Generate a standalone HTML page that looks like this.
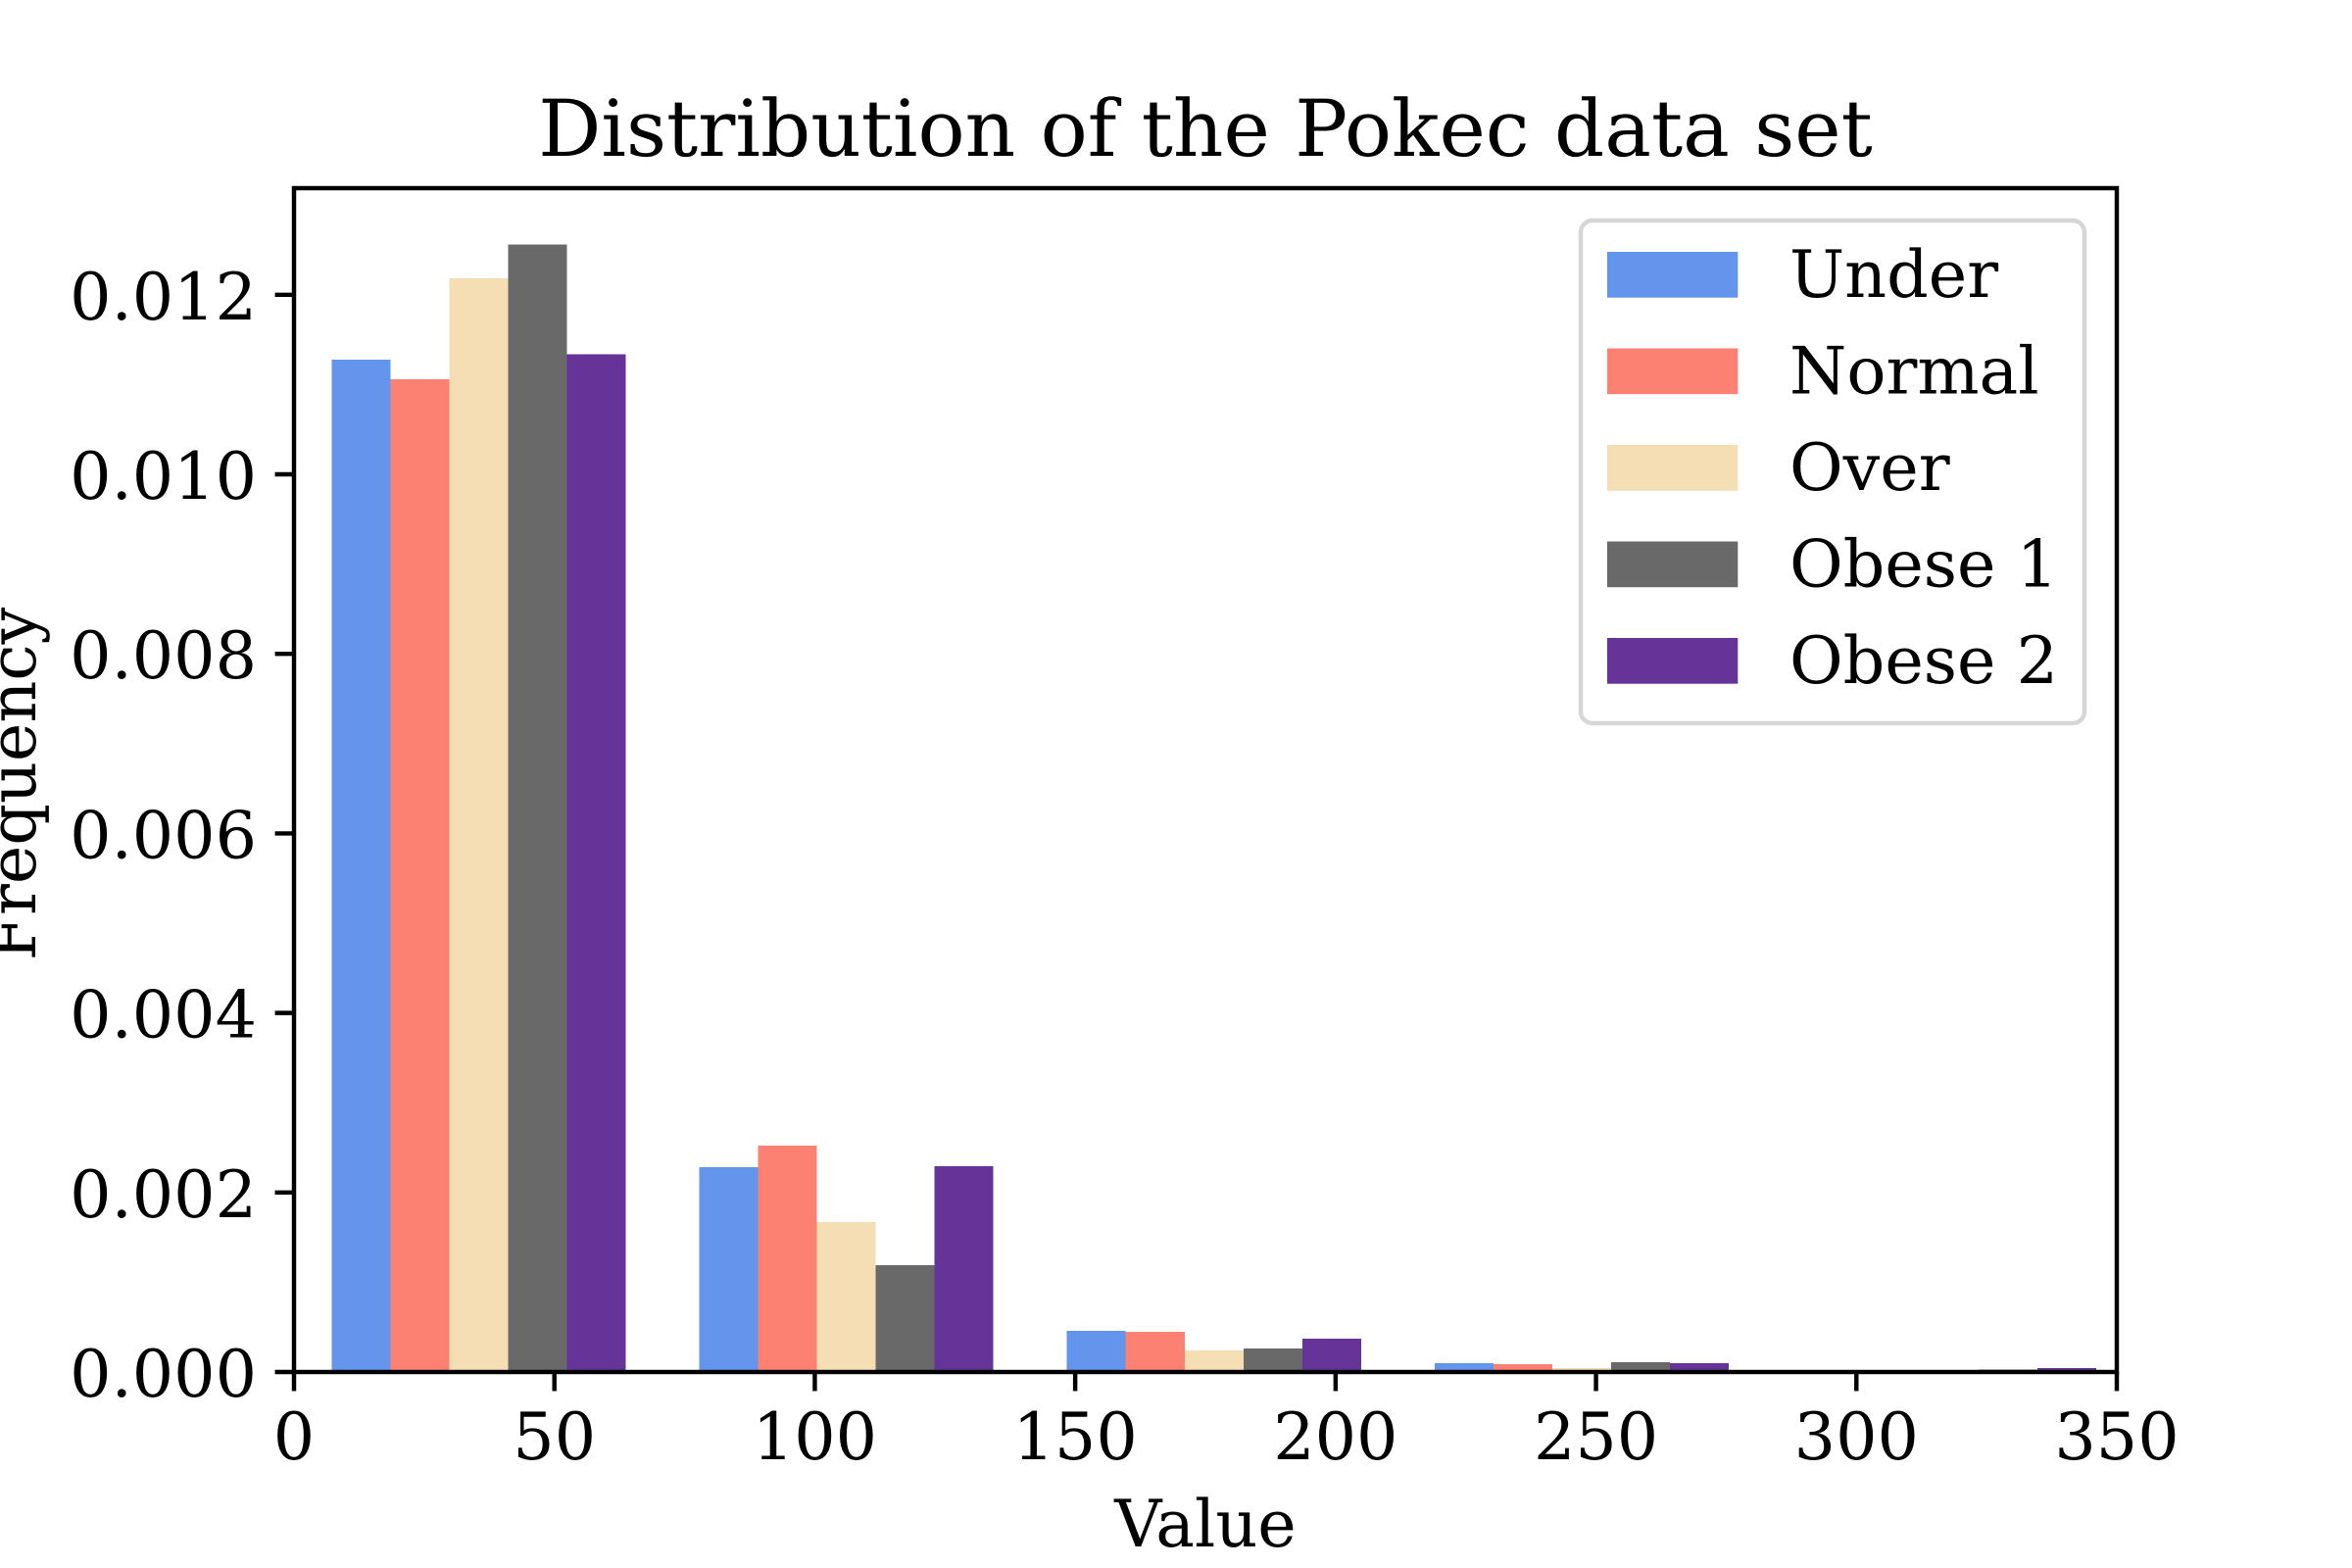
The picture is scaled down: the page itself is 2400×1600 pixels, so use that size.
<!DOCTYPE html>
<html lang="en">
<head>
<meta charset="utf-8">
<title>Distribution of the Pokec data set</title>
<style>
  html, body { margin: 0; padding: 0; background: #ffffff; }
  svg { display: block; }
  text { font-family: "DejaVu Serif", "Liberation Serif", serif; fill: #000000; text-rendering: geometricPrecision; }
  #bars rect { shape-rendering: crispEdges; }
</style>
</head>
<body>
<svg id="chart" xmlns="http://www.w3.org/2000/svg" width="2400" height="1600" viewBox="0 0 2400 1600">
  <rect x="0" y="0" width="2400" height="1600" fill="#ffffff"/>
  <g id="bars"></g>
  <g id="ticks"></g>
  <rect x="300" y="192" width="1860" height="1208" fill="none" stroke="#000000" stroke-width="4.44"/>
  <text x="1230" y="159" font-size="80" text-anchor="middle">Distribution of the Pokec data set</text>
  <text x="1230" y="1578" font-size="66.67" text-anchor="middle">Value</text>
  <text x="0" y="0" font-size="66.67" text-anchor="middle" transform="translate(36 800) rotate(-90)">Frequency</text>
  <g id="legend">
    <rect x="1613" y="225" width="514" height="513" rx="12" ry="12" fill="#ffffff" fill-opacity="0.8" stroke="#d6d6d6" stroke-width="4.44"/>
  </g>
</svg>
<script>
const seriesNames = ["Under", "Normal", "Over", "Obese 1", "Obese 2"];
const seriesColors = ["#6495ed", "#fd8172", "#f5deb3", "#696969", "#663399"];
const binEdges = [0.15, 70.75, 141.35, 211.95, 282.55];
const binWidth = 70.6;
const barFill = 0.8;
const under = [0.01128, 0.002284, 0.000456, 0.0001, 0];
const normal = [0.01106, 0.00252, 0.000445, 0.00009, 0];
const over = [0.012184, 0.00167, 0.00024, 0.000044, 0.000002];
const obese1 = [0.01256, 0.00119, 0.000262, 0.00011, 0.00003];
const obese2 = [0.01134, 0.00229, 0.000373, 0.0001, 0.000044];
const xTickValues = [0, 50, 100, 150, 200, 250, 300, 350];
const yTickLabels = ["0.000", "0.002", "0.004", "0.006", "0.008", "0.010", "0.012"];

const allSeries = [under, normal, over, obese1, obese2];
const SVG_NS = "http://www.w3.org/2000/svg";
const plot = { left: 300, right: 2160, top: 192, bottom: 1400 };
const xMax = 350;
const yMax = Math.max(...allSeries.flat()) * 1.05;
const xScale = v => plot.left + (v / xMax) * (plot.right - plot.left);
const yScale = v => plot.bottom - (v / yMax) * (plot.bottom - plot.top);

function make(tag, attrs, parent) {
  const el = document.createElementNS(SVG_NS, tag);
  for (const k in attrs) el.setAttribute(k, attrs[k]);
  parent.appendChild(el);
  return el;
}

const barsGroup = document.getElementById("bars");
const ticksGroup = document.getElementById("ticks");
const legendGroup = document.getElementById("legend");

const barUnit = binWidth * barFill / seriesNames.length;
const binPad = binWidth * (1 - barFill) / 2;
allSeries.forEach((values, s) => {
  values.forEach((v, b) => {
    const x0 = xScale(binEdges[b] + binPad + s * barUnit);
    const x1 = xScale(binEdges[b] + binPad + (s + 1) * barUnit);
    const rect = make("rect", { x: x0, y: yScale(v), width: x1 - x0, height: plot.bottom - yScale(v), fill: seriesColors[s] }, barsGroup);
    
    
  });
});

xTickValues.forEach(v => {
  const x = xScale(v);
  const tick = make("line", { x1: x, x2: x, y1: plot.bottom, y2: plot.bottom + 19.44, stroke: "#000000", "stroke-width": 4.44 }, ticksGroup);
  
  
  const label = make("text", { x: x, y: 1489, "font-size": 66.67, "text-anchor": "middle" }, ticksGroup);
  label.textContent = String(v);
  
  
});

yTickLabels.forEach(t => {
  const y = yScale(parseFloat(t));
  const tick = make("line", { x1: plot.left - 19.44, x2: plot.left, y1: y, y2: y, stroke: "#000000", "stroke-width": 4.44 }, ticksGroup);
  
  
  const label = make("text", { x: 262, y: y + 25, "font-size": 66.67, "text-anchor": "end" }, ticksGroup);
  label.textContent = t;
  
  
});

seriesNames.forEach((name, i) => {
  const top = 257 + i * 98.5;
  const swatch = make("rect", { x: 1640, y: top, width: 133.3, height: 46.7, fill: seriesColors[i] }, legendGroup);
  
  
  const label = make("text", { x: 1826, y: top + 46, "font-size": 66.67 }, legendGroup);
  label.textContent = name;
  
  
});
</script>
</body>
</html>
